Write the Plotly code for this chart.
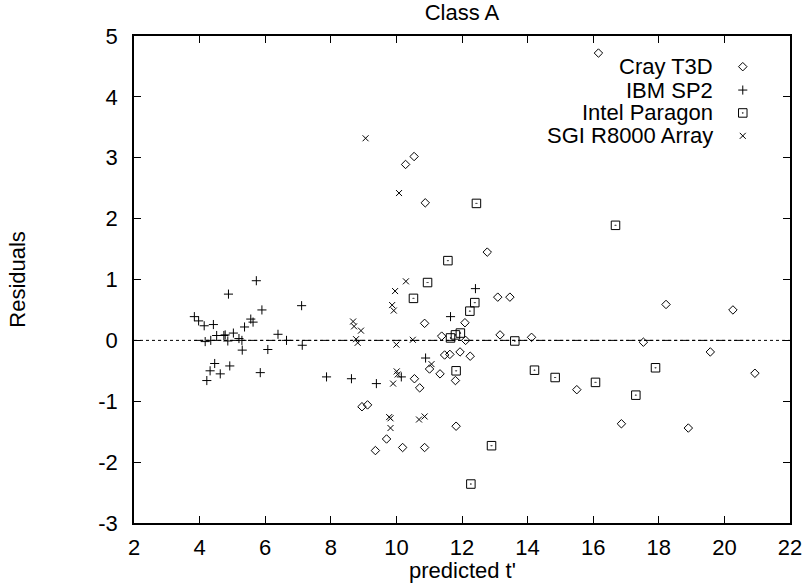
import plotly.graph_objects as go

# ---------------- data ----------------
cray_x = [16.16, 10.54, 10.28, 10.88, 12.77, 13.09, 13.46, 10.86, 12.09, 11.38, 12.11, 13.16,
          11.47, 11.63, 11.94, 12.25, 11.01, 11.33, 11.80, 10.55, 10.71, 8.95, 9.12, 11.82,
          9.70, 9.36, 10.19, 10.86, 18.22, 20.26, 14.12, 17.53, 19.57, 15.50, 20.93, 16.86, 18.90]
cray_y = [4.72, 3.02, 2.89, 2.26, 1.45, 0.71, 0.71, 0.28, 0.29, 0.07, 0.00, 0.09,
          -0.24, -0.23, -0.19, -0.26, -0.47, -0.55, -0.66, -0.63, -0.78, -1.09, -1.06, -1.41,
          -1.62, -1.81, -1.76, -1.76, 0.59, 0.50, 0.05, -0.03, -0.19, -0.81, -0.54, -1.37, -1.44]

ibm_x = [3.84, 3.97, 4.14, 4.42, 4.17, 4.34, 4.52, 4.74, 4.78, 4.88, 4.86, 5.03, 5.20, 5.29,
         5.30, 5.37, 5.56, 5.63, 5.73, 5.90, 5.85, 6.08, 6.39, 6.65, 7.11, 7.13, 7.87, 4.46,
         4.32, 4.22, 4.63, 4.92, 12.41, 11.65, 10.89, 8.63, 9.39, 10.15]
ibm_y = [0.39, 0.32, 0.24, 0.26, -0.02, 0.00, 0.08, 0.08, 0.09, 0.76, -0.01, 0.12, 0.03, 0.00,
         -0.16, 0.22, 0.35, 0.30, 0.98, 0.50, -0.53, -0.15, 0.10, 0.00, 0.57, -0.08, -0.60, -0.38,
         -0.50, -0.66, -0.55, -0.42, 0.85, 0.39, -0.29, -0.63, -0.71, -0.60]

intel_x = [12.44, 11.57, 10.95, 10.52, 12.39, 12.24, 11.65, 11.80, 11.95, 13.61, 11.82, 12.90,
           12.27, 16.68, 14.21, 14.84, 16.07, 17.90, 17.30]
intel_y = [2.25, 1.31, 0.95, 0.69, 0.62, 0.48, 0.04, 0.09, 0.12, -0.01, -0.50, -1.73,
           -2.36, 1.89, -0.49, -0.61, -0.69, -0.45, -0.90]

sgi_x = [9.06, 10.08, 10.29, 9.96, 9.87, 9.92, 8.68, 8.71, 8.92, 8.77, 8.82, 10.00, 10.50,
         11.07, 10.01, 10.04, 9.90, 9.78, 9.82, 10.69, 10.86, 9.82]
sgi_y = [3.32, 2.42, 0.97, 0.81, 0.58, 0.49, 0.31, 0.23, 0.16, 0.02, -0.04, -0.07, 0.01,
         -0.39, -0.51, -0.56, -0.71, -1.26, -1.28, -1.30, -1.25, -1.44]

series_names = ["Cray T3D", "IBM SP2", "Intel Paragon", "SGI R8000 Array"]
x_ticks = [2, 4, 6, 8, 10, 12, 14, 16, 18, 20, 22]
y_ticks = [-3, -2, -1, 0, 1, 2, 3, 4, 5]

# ---------------- style ----------------
FONT = "Liberation Sans, Arial, sans-serif"
FS = 22
symbols = ["diamond-open", "cross-thin-open", "square-open-dot", "x-thin-open"]
sizes = [6.5, 6.5, 8.5, 6]
series = [(cray_x, cray_y), (ibm_x, ibm_y), (intel_x, intel_y), (sgi_x, sgi_y)]

fig = go.Figure()

# fitted zero line across data range (dash-dot)
all_x = cray_x + ibm_x + intel_x + sgi_x
fig.add_trace(go.Scatter(x=[min(all_x), max(all_x)], y=[0, 0], mode="lines",
                         line=dict(color="black", width=1, dash="dashdot"),
                         showlegend=False, hoverinfo="skip"))

for (xs, ys), name, sym, sz in zip(series, series_names, symbols, sizes):
    fig.add_trace(go.Scatter(x=xs, y=ys, mode="markers", name=name, showlegend=False,
                             marker=dict(symbol=sym, size=sz, color="black",
                                         line=dict(color="black", width=1))))

# legend symbols on an overlay axis (0..1)
leg_y = [0.937, 0.889, 0.842, 0.795]
leg_sym_x = 0.928
leg_txt_x = 0.884
for name, sym, sz, ly in zip(series_names, symbols, sizes, leg_y):
    fig.add_trace(go.Scatter(x=[leg_sym_x], y=[ly], mode="markers", xaxis="x2", yaxis="y2",
                             showlegend=False, hoverinfo="skip",
                             marker=dict(symbol=sym, size=sz, color="black",
                                         line=dict(color="black", width=1))))
    fig.add_annotation(x=leg_txt_x, y=ly, xref="paper", yref="paper", text=name,
                       showarrow=False, xanchor="right", yanchor="middle", borderpad=0,
                       font=dict(family=FONT, size=FS, color="black"))

# dotted zero axis across full width
fig.add_shape(type="line", xref="paper", yref="y", x0=0, x1=1, y0=0, y1=0,
              line=dict(color="black", width=1, dash="dot"), layer="below")

axis_common = dict(showgrid=False, zeroline=False, ticks="inside", ticklen=7, tickwidth=1,
                   tickcolor="black", showline=True, linecolor="black", linewidth=1.5,
                   mirror="ticks", automargin=False,
                   tickfont=dict(family=FONT, size=FS, color="black"))

fig.update_layout(
    width=804, height=584,
    margin=dict(l=134, r=14, t=36, b=61, autoexpand=False),
    paper_bgcolor="white", plot_bgcolor="white",
    showlegend=False,
    title=dict(text="Class A", x=0.5, xref="paper", xanchor="center",
               y=1 - 12 / 584, yref="container", yanchor="middle",
               font=dict(family=FONT, size=FS, color="black")),
    xaxis=dict(range=[2, 22], tickvals=x_ticks, ticktext=[str(v) for v in x_ticks],
               ticklabelstandoff=4, **axis_common),
    yaxis=dict(range=[-3, 5], tickvals=y_ticks, ticktext=[str(v) for v in y_ticks],
               ticklabelstandoff=10, **axis_common),
    xaxis2=dict(range=[0, 1], overlaying="x", visible=False, fixedrange=True),
    yaxis2=dict(range=[0, 1], overlaying="y", visible=False, fixedrange=True),
)

fig.add_annotation(x=0.5, y=-0.0985, xref="paper", yref="paper", text="predicted t'",
                   showarrow=False, xanchor="center", yanchor="middle", borderpad=0,
                   font=dict(family=FONT, size=FS, color="black"))
fig.add_annotation(x=-0.178, y=0.5, xref="paper", yref="paper", text="Residuals",
                   showarrow=False, xanchor="center", yanchor="middle", textangle=-90,
                   font=dict(family=FONT, size=FS, color="black"))

fig.write_html("out.html", config={"displayModeBar": False},
               post_script="document.body.style.margin='0';document.body.style.overflow='hidden';")
